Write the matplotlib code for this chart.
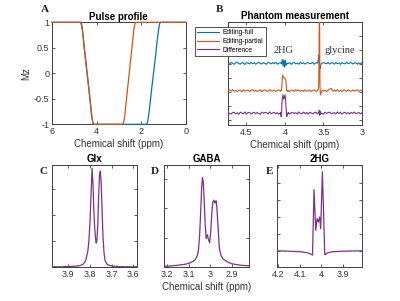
import numpy as np
import matplotlib
matplotlib.use('Agg')
import matplotlib.pyplot as plt

plt.rcParams['font.family'] = ['Liberation Sans', 'DejaVu Sans']

BLUE = '#0072BD'
ORANGE = '#D95319'
PURPLE = '#7E2F8E'
AXC = '#404040'

# ---------------- Panel A: pulse profile ----------------
pulse_full_ppm = [0, 1.13, 1.15, 1.18, 1.22, 1.29, 1.35, 1.445, 1.54, 1.60, 1.67, 1.71, 1.74, 1.76,
                  4.12, 4.14, 4.17, 4.21, 4.27, 4.33, 4.42, 4.51, 4.57, 4.63, 4.67, 4.70, 4.72, 6]
pulse_full_mz = [1, 1, .99, .95, .85, .6, .35, 0, -.35, -.6, -.85, -.95, -.99, -1,
                 -1, -.99, -.95, -.85, -.6, -.35, 0, .35, .6, .85, .95, .99, 1, 1]
pulse_partial_ppm = [0, 2.24, 2.26, 2.29, 2.33, 2.39, 2.45, 2.535, 2.62, 2.68, 2.74, 2.78, 2.81, 2.83,
                     4.13, 4.15, 4.18, 4.22, 4.28, 4.34, 4.43, 4.52, 4.58, 4.64, 4.68, 4.71, 4.73, 6]
pulse_partial_mz = [1, 1, .99, .95, .85, .6, .35, 0, -.35, -.6, -.85, -.95, -.99, -1,
                    -1, -.99, -.95, -.85, -.6, -.35, 0, .35, .6, .85, .95, .99, 1, 1]

# ---------------- Panel B: phantom measurement ----------------
b_grid_start, b_grid_stop, b_grid_step = 4.74, 3.0, 0.02
noise_full = [0.03, -0.05, 0.06, 0.00, -0.07, 0.04, 0.08, -0.02, -0.06, 0.05,
              0.02, -0.08, 0.06, 0.01, -0.04, 0.07, -0.03, 0.05, -0.06, 0.02,
              0.08, -0.01, -0.05, 0.04, 0.00, -0.07, 0.06, 0.03, -0.04, 0.05,
              -0.02, 0.07, -0.06, 0.01, 0.04, -0.03, 0.06, -0.05, 0.02, -0.01,
              0.05, -0.07, 0.03, 0.06, -0.04, 0.01, -0.06, 0.08, -0.02, 0.04,
              -0.05, 0.03, 0.07, -0.03, 0.00, 0.05, -0.06, 0.02, 0.06, -0.04,
              0.03, -0.08, 0.05, 0.01, -0.03, 0.07, -0.05, 0.02, 0.04, -0.06,
              0.06, -0.02, 0.03, -0.07, 0.05, 0.00, -0.04, 0.08, -0.03, 0.02,
              0.06, -0.05, 0.01, 0.04, -0.06, 0.03, -0.02, 0.05]
noise_partial = [-0.04, 0.05, -0.02, 0.07, -0.05, 0.01, -0.06, 0.04, 0.02, -0.07,
                 0.06, -0.03, 0.00, 0.05, -0.06, 0.03, 0.07, -0.04, 0.02, -0.05,
                 -0.01, 0.06, -0.07, 0.03, 0.05, -0.02, -0.05, 0.07, 0.01, -0.04,
                 0.05, -0.06, 0.02, 0.06, -0.03, 0.04, -0.07, 0.01, 0.05, -0.02,
                 -0.06, 0.04, 0.03, -0.05, 0.07, -0.01, 0.05, -0.04, 0.02, -0.06,
                 0.06, -0.03, -0.02, 0.05, -0.06, 0.03, 0.04, -0.05, 0.01, 0.07,
                 -0.04, 0.06, -0.02, 0.03, -0.07, 0.04, 0.12, 0.15, -0.03, 0.05,
                 -0.05, 0.07, -0.04, 0.02, -0.06, 0.05, 0.03, -0.05, 0.06, -0.02,
                 -0.04, 0.05, -0.03, 0.02, 0.06, -0.05, 0.04, -0.02]
noise_diff = [0.05, -0.03, -0.07, 0.04, 0.06, -0.05, 0.02, -0.08, 0.07, -0.01,
              -0.04, 0.08, -0.06, 0.03, 0.05, -0.07, 0.01, 0.06, -0.05, 0.04,
              -0.03, -0.08, 0.07, -0.02, 0.05, 0.03, -0.06, 0.08, -0.04, 0.01,
              0.06, -0.05, 0.03, -0.07, 0.04, 0.02, -0.06, 0.07, -0.03, 0.05,
              -0.08, 0.02, 0.06, -0.04, 0.03, -0.06, 0.08, -0.01, -0.05, 0.07,
              -0.03, 0.04, -0.07, 0.06, 0.01, -0.05, 0.03, 0.07, -0.06, 0.02,
              -0.04, 0.05, -0.08, 0.06, -0.02, 0.03, 0.07, -0.05, -0.01, 0.04,
              -0.06, 0.08, -0.03, 0.05, -0.07, 0.02, 0.06, -0.04, 0.03, -0.06,
              0.05, -0.02, 0.07, -0.05, 0.01, 0.04, -0.06, 0.03]

# feature regions (2HG ~4.0 ppm and glycine ~3.55 ppm)
feat_full_ppm = [4.055, 4.045, 4.035, 4.025, 4.015, 4.005, 3.995, 3.985, 3.97,
                 3.575, 3.568, 3.562, 3.557, 3.552, 3.547, 3.542, 3.535, 3.525]
feat_full_val = [0.02, -0.03, 0.28, -0.2, 0.25, -0.28, 0.22, -0.15, 0.02,
                 0.02, 0.2, 0.55, 0.3, -0.2, -0.4, -0.3, -0.12, 0.0]
feat_partial_ppm = [4.055, 4.045, 4.04, 4.035, 4.03, 4.025, 4.02, 4.01, 4.0, 3.99, 3.985, 3.98, 3.97, 3.96,
                    3.575, 3.567, 3.562, 3.557, 3.553, 3.549, 3.545, 3.54, 3.535, 3.528, 3.52]
feat_partial_val = [0.0, 0.02, 0.4, 0.9, 1.1, 1.0, 0.95, 0.9, 0.88, 0.82, 0.5, 0.05, -0.05, 0.02,
                    0.0, 0.15, 0.4, 3.0, 8.0, 3.0, 0.2, -0.3, -0.25, -0.1, 0.03]
feat_diff_ppm = [4.06, 4.05, 4.045, 4.04, 4.035, 4.025, 4.018, 4.01, 4.0, 3.993, 3.985, 3.978, 3.97, 3.96,
                 3.57, 3.56, 3.555, 3.55, 3.545, 3.54, 3.53]
feat_diff_val = [0.0, -0.25, -0.1, 0.6, 1.1, 1.3, 1.0, 1.05, 1.3, 1.0, 0.3, -0.25, -0.1, 0.0,
                 0.0, 0.02, 0.2, -0.15, 0.15, -0.1, 0.0]
feat_windows = [(3.96, 4.06), (3.515, 3.58)]

trace_labels = ['Editing-full', 'Editing-partial', 'Difference']

# ---------------- Panels C-E: simulated difference spectra ----------------
glx_ppm = [3.975, 3.93, 3.90, 3.87, 3.85, 3.84, 3.83, 3.82, 3.81, 3.805, 3.80, 3.795, 3.79, 3.786, 3.782,
           3.778, 3.774, 3.771, 3.768, 3.764, 3.76, 3.756, 3.752, 3.748, 3.744, 3.74, 3.735, 3.73, 3.72,
           3.70, 3.67, 3.63, 3.583]
glx_val = [0.02, 0.02, 0.03, 0.04, 0.06, 0.08, 0.13, 0.25, 0.6, 1.0, 1.7, 2.8, 3.8, 3.2, 2.2,
           1.5, 1.1, 0.93, 1.05, 1.6, 2.7, 3.55, 3.7, 3.2, 2.2, 1.2, 0.55, 0.25, 0.1,
           0.05, 0.03, 0.02, 0.02]

gaba_ppm = [3.215, 3.18, 3.15, 3.12, 3.10, 3.08, 3.07, 3.06, 3.055, 3.05, 3.045, 3.04, 3.036, 3.032,
            3.028, 3.024, 3.019, 3.016, 3.013, 3.009, 3.003, 2.998, 2.993, 2.988, 2.984, 2.98, 2.977,
            2.973, 2.969, 2.965, 2.96, 2.957, 2.95, 2.94, 2.92, 2.90, 2.87, 2.84, 2.82]
gaba_val = [0.03, 0.05, 0.07, 0.1, 0.13, 0.2, 0.26, 0.4, 0.58, 1.0, 1.8, 2.7, 3.04, 2.85,
            2.2, 1.5, 0.98, 1.05, 1.1, 0.95, 0.83, 1.2, 1.8, 2.2, 2.27, 2.2, 2.18,
            2.25, 2.0, 1.5, 0.9, 0.6, 0.4, 0.28, 0.18, 0.12, 0.08, 0.06, 0.05]

hg_ppm = [4.205, 4.17, 4.13, 4.10, 4.08, 4.065, 4.055, 4.045, 4.04, 4.033, 4.025, 4.019, 4.013,
          4.007, 4.002, 3.994, 3.983, 3.975, 3.965, 3.95, 3.93, 3.90, 3.86, 3.81]
hg_val = [-0.02, -0.03, -0.05, -0.07, -0.1, -0.13, -0.17, -0.23, -0.27, 3.63, 1.2, 1.9, 1.7,
          2.0, 1.3, 4.69, -0.26, -0.17, -0.12, -0.08, -0.06, -0.04, -0.03, -0.02]

# ---------------- figure ----------------
W, H = 400, 301
fig = plt.figure(figsize=(W / 100, H / 100), dpi=100)


def box(l, t, r, b):
    return [l / W, 1 - b / H, (r - l) / W, (b - t) / H]


def style(ax):
    for s in ax.spines.values():
        s.set_color(AXC)
        s.set_linewidth(0.7)
        s.set_zorder(1)
    ax.tick_params(direction='in', length=2.5, width=0.6, color=AXC, labelsize=6.5,
                   top=True, right=True, pad=2, labelcolor='#333333')


def panel_label(x, y, s):
    fig.text(x / W, 1 - y / H, s, fontsize=8, fontweight='bold', family='Liberation Serif',
             ha='center', va='center', color='#222222')


# Panel A
axA = fig.add_axes(box(52, 22.3, 185.7, 124.3))
axA.plot(pulse_full_ppm, pulse_full_mz, color=BLUE, lw=0.9, zorder=3, clip_on=False)
axA.plot(pulse_partial_ppm, pulse_partial_mz, color=ORANGE, lw=0.9, zorder=3, clip_on=False)
axA.set_xlim(6, 0)
axA.set_ylim(-1, 1)
axA.set_xticks([6, 4, 2, 0])
axA.set_xticklabels(['6', '4', '2', '0'])
axA.set_yticks([-1, -0.5, 0, 0.5, 1])
axA.set_yticklabels(['-1', '-0.5', '0', '0.5', '1'])
axA.set_xlabel('Chemical shift (ppm)', fontsize=7, labelpad=2, color='#333333')
axA.set_ylabel('Mz', fontsize=7, labelpad=2, color='#333333')
axA.set_title('Pulse profile', fontsize=7, fontweight='bold', pad=2)
style(axA)

# Panel B
axB = fig.add_axes(box(228, 22, 362, 125))
grid = np.round(np.arange(b_grid_start, b_grid_stop - 1e-9, -b_grid_step), 3)


def merged(noise, fx, fy):
    xs, ys = [], []
    for x, v in zip(grid, noise):
        if any(lo < x < hi for lo, hi in feat_windows):
            continue
        xs.append(x)
        ys.append(v)
    xs += list(fx)
    ys += list(fy)
    order = np.argsort(xs)[::-1]
    return np.array(xs)[order], np.array(ys)[order]


offsets = [4.05, 2.1, 0.5]
series = [(noise_full, feat_full_ppm, feat_full_val, BLUE),
          (noise_partial, feat_partial_ppm, feat_partial_val, ORANGE),
          (noise_diff, feat_diff_ppm, feat_diff_val, PURPLE)]
lines = []
for (nz, fx, fy, c), off, lab in zip(series, offsets, trace_labels):
    x, y = merged(nz, fx, fy)
    ln, = axB.plot(x, y + off, color=c, lw=0.8, label=lab)
    lines.append(ln)
axB.set_xlim(4.74, 3.0)
axB.set_ylim(-0.35, 7.0)
axB.set_xticks([4.5, 4, 3.5, 3])
axB.set_xticklabels(['4.5', '4', '3.5', '3'])
axB.set_yticks([0, 1, 2, 3, 4, 5, 6])
axB.set_yticklabels([])
axB.set_xlabel('Chemical shift (ppm)', fontsize=7, labelpad=2, color='#333333')
axB.set_title('Phantom measurement', fontsize=7, fontweight='bold', pad=2)
style(axB)
axB.text(4.02, 5.0, '2HG', family='Liberation Serif', fontsize=7.5, ha='center', va='center', color='#333333')
axB.text(3.29, 5.0, 'glycine', family='Liberation Serif', fontsize=7.5, ha='center', va='center', color='#333333')
leg = axB.legend(handles=lines, loc='upper left', bbox_to_anchor=(195 / W, 1 - 27 / H),
                 bbox_transform=fig.transFigure, borderaxespad=0, fontsize=4.8, frameon=True,
                 fancybox=False, edgecolor='#333333', framealpha=1, handlelength=3.3,
                 handletextpad=0.5, labelspacing=0.25, borderpad=0.35)
leg.get_frame().set_linewidth(0.6)

# Panel C
axC = fig.add_axes(box(52, 165, 137, 267.3))
axC.plot(glx_ppm, glx_val, color=PURPLE, lw=0.9)
axC.set_xlim(3.975, 3.583)
axC.set_ylim(0, 3.93)
axC.set_xticks([3.9, 3.8, 3.7, 3.6])
axC.set_xticklabels(['3.9', '3.8', '3.7', '3.6'])
axC.set_yticks([1, 2, 3])
axC.set_yticklabels([])
axC.set_title('Glx', fontsize=7, fontweight='bold', pad=2)
style(axC)

# Panel D
axD = fig.add_axes(box(164, 165, 249, 267.3))
axD.plot(gaba_ppm, gaba_val, color=PURPLE, lw=0.9)
axD.set_xlim(3.215, 2.82)
axD.set_ylim(0, 3.46)
axD.set_xticks([3.2, 3.1, 3.0, 2.9])
axD.set_xticklabels(['3.2', '3.1', '3', '2.9'])
axD.set_yticks([1, 2, 3])
axD.set_yticklabels([])
axD.set_xlabel('Chemical shift (ppm)', fontsize=7, labelpad=2, color='#333333')
axD.set_title('GABA', fontsize=7, fontweight='bold', pad=2)
style(axD)

# Panel E
axE = fig.add_axes(box(277, 165, 362, 267.3))
axE.plot(hg_ppm, hg_val, color=PURPLE, lw=0.9)
axE.set_xlim(4.205, 3.81)
axE.set_ylim(-1, 5.1)
axE.set_xticks([4.2, 4.1, 4.0, 3.9])
axE.set_xticklabels(['4.2', '4.1', '4', '3.9'])
axE.set_yticks([0, 1, 2, 3, 4])
axE.set_yticklabels([])
axE.set_title('2HG', fontsize=7, fontweight='bold', pad=2)
style(axE)

panel_label(45, 10, 'A')
panel_label(219, 10, 'B')
panel_label(44, 172, 'C')
panel_label(155, 172, 'D')
panel_label(270, 172, 'E')

fig.savefig('out.png', dpi=100, facecolor='white')
